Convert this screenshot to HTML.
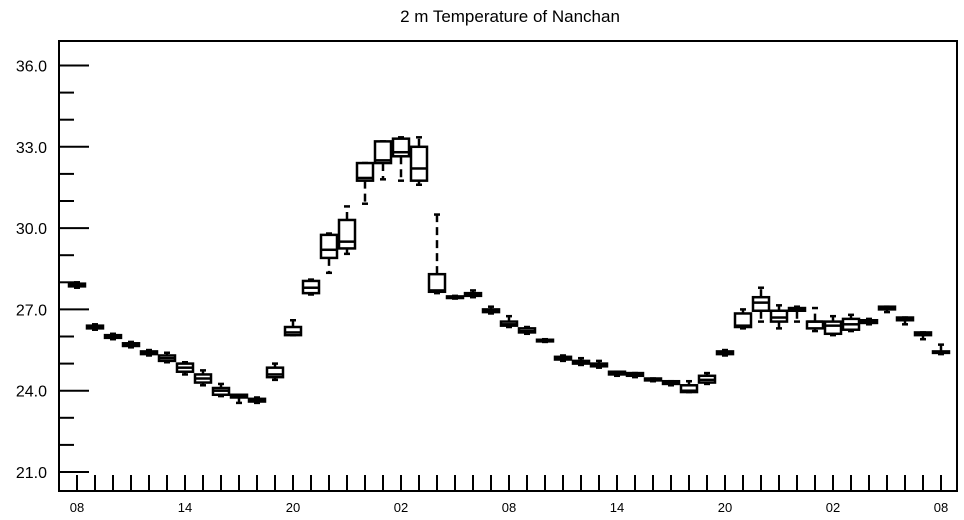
<!DOCTYPE html>
<html><head><meta charset="utf-8"><style>
body{margin:0;background:#fff;}
svg{display:block;font-family:"Liberation Sans",sans-serif;}
</style></head><body>
<svg id="chart" width="964" height="520">
<text x="510" y="22" text-anchor="middle" font-size="17">2 m Temperature of Nanchan</text>
<rect x="59" y="41" width="898" height="450" fill="none" stroke="#000" stroke-width="2"/>
<g id="axes"></g>
<g id="boxes"></g>
</svg>
<script>
const mins = [27.8,26.25,25.9,25.6,25.3,25.05,24.6,24.2,23.8,23.55,23.55,24.4,26.05,27.55,28.35,29.05,30.9,31.8,31.75,31.6,27.6,27.4,27.45,26.85,26.35,26.1,25.8,25.1,24.95,24.85,24.55,24.5,24.35,24.2,23.95,24.25,25.3,26.3,26.55,26.3,26.55,26.2,26.05,26.2,26.45,26.9,26.45,25.9,25.35];
const q1s = [27.85,26.3,25.95,25.65,25.35,25.1,24.7,24.3,23.85,23.75,23.6,24.5,26.05,27.6,28.9,29.25,31.75,32.4,32.65,31.75,27.65,27.42,27.5,26.9,26.4,26.15,25.82,25.15,25.0,24.9,24.6,24.55,24.38,24.25,23.95,24.3,25.35,26.35,26.95,26.55,26.95,26.3,26.1,26.25,26.5,27.0,26.6,26.05,25.4];
const medians = [27.9,26.35,26.0,25.7,25.4,25.2,24.85,24.45,24.0,23.8,23.65,24.6,26.15,27.8,29.2,29.5,31.85,32.5,32.8,32.2,27.7,27.45,27.55,26.95,26.45,26.2,25.85,25.2,25.05,24.95,24.65,24.6,24.4,24.3,24.0,24.4,25.4,26.4,27.25,26.7,27.0,26.55,26.4,26.45,26.55,27.05,26.65,26.1,25.4];
const q3s = [27.95,26.4,26.05,25.75,25.45,25.3,25.0,24.6,24.1,23.85,23.7,24.85,26.35,28.05,29.75,30.3,32.4,33.2,33.3,33.0,28.3,27.48,27.6,27.0,26.55,26.3,25.88,25.25,25.1,25.0,24.7,24.65,24.45,24.35,24.2,24.55,25.45,26.85,27.45,26.95,27.05,26.55,26.55,26.65,26.6,27.1,26.7,26.15,25.45];
const maxs = [28.0,26.45,26.1,25.8,25.5,25.4,25.05,24.75,24.25,23.85,23.75,25.0,26.6,28.1,29.8,30.8,32.4,33.2,33.35,33.35,30.5,27.5,27.7,27.1,26.75,26.35,25.9,25.3,25.2,25.1,24.7,24.65,24.45,24.35,24.35,24.65,25.5,27.0,27.8,27.15,27.1,27.05,26.75,26.8,26.65,27.1,26.7,26.15,25.7];
const yTicks = [21,24,27,30,33,36];
const xTickLabels = ["08","14","20","02","08","14","20","02","08"];
const NS="http://www.w3.org/2000/svg";
const yScale = v => 472 - (v-21)*27.1;
const xScale = i => 77 + i*18;
function mk(tag, attrs, parent){const e=document.createElementNS(NS,tag);for(const k in attrs)e.setAttribute(k,attrs[k]);parent.appendChild(e);return e;}
const axes=document.getElementById('axes');
for(let v=21; v<=36.9; v+=1){
  const major = yTicks.includes(Math.round(v));
  const t=mk('line',{x1:59,x2:major?89:74,y1:yScale(v),y2:yScale(v),stroke:'#000','stroke-width':2},axes);
  
  
}
yTicks.forEach(v=>{
  const t=mk('text',{x:47,y:yScale(v)+6,'text-anchor':'end','font-size':16},axes);
  t.textContent=v.toFixed(1);
  
  
});
for(let i=0;i<mins.length;i++){
  const t=mk('line',{x1:xScale(i),x2:xScale(i),y1:491,y2:475,stroke:'#000','stroke-width':2},axes);
  
  
}
xTickLabels.forEach((lab,j)=>{
  const t=mk('text',{x:xScale(j*6),y:512,'text-anchor':'middle','font-size':13},axes);
  t.textContent=lab;
  
  
});
const boxes=document.getElementById('boxes');
for(let i=0;i<mins.length;i++){
  const g=mk('g',{stroke:'#000','stroke-width':2.5,fill:'none'},boxes);
  
  
  const x=xScale(i);
  mk('line',{x1:x,x2:x,y1:yScale(q3s[i]),y2:yScale(maxs[i]),'stroke-dasharray':'8,5'},g);
  mk('line',{x1:x,x2:x,y1:yScale(q1s[i]),y2:yScale(mins[i]),'stroke-dasharray':'8,5'},g);
  mk('line',{x1:x-3,x2:x+3,y1:yScale(maxs[i]),y2:yScale(maxs[i])},g);
  mk('line',{x1:x-3,x2:x+3,y1:yScale(mins[i]),y2:yScale(mins[i])},g);
  const top=yScale(q3s[i]), bot=yScale(q1s[i]);
  mk('rect',{x:x-8,y:top,width:16,height:Math.max(bot-top,1.5),fill:'#fff'},g);
  mk('line',{x1:x-8,x2:x+8,y1:yScale(medians[i]),y2:yScale(medians[i])},g);
}
</script>
</body></html>
